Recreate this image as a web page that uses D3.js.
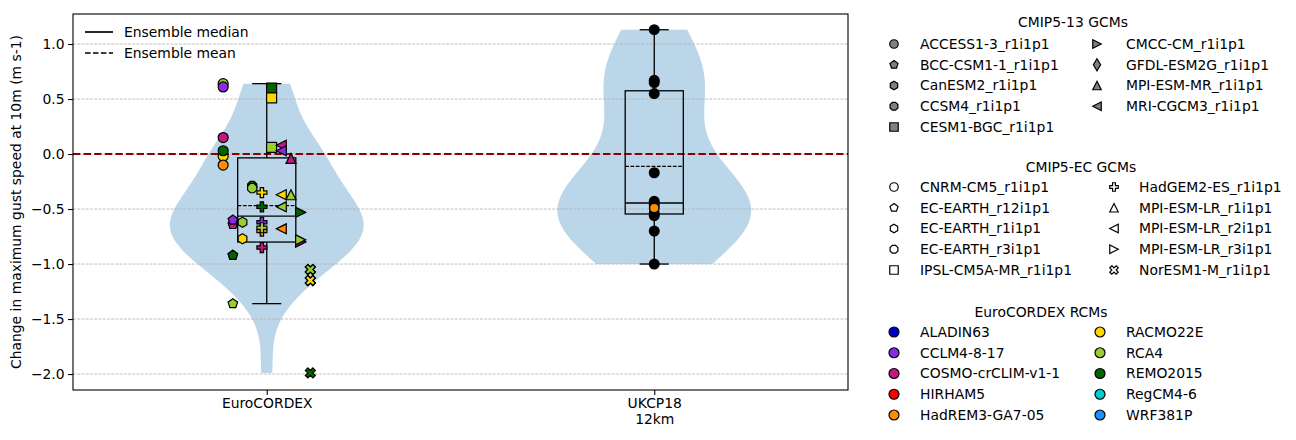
<!DOCTYPE html>
<html>
<head>
<meta charset="utf-8">
<script src="https://cdn.jsdelivr.net/npm/d3@7"></script>
<style>
  body { margin: 0; background: #fff; }
  svg text { font-family: "DejaVu Sans", sans-serif; font-size: 13.9px; fill: #000; }
</style>
</head>
<body>
<div id="chart"></div>
<script>
// ---------------- data ----------------
const groups = ['EuroCORDEX', 'UKCP18\n12km'];
const yTicks = [1.0, 0.5, 0.0, -0.5, -1.0, -1.5, -2.0];

const rcmNames = ['ALADIN63', 'CCLM4-8-17', 'COSMO-crCLIM-v1-1', 'HIRHAM5', 'HadREM3-GA7-05',
    'RACMO22E', 'RCA4', 'REMO2015', 'RegCM4-6', 'WRF381P'];
const rcmColors = ['#0000cd', '#8a2be2', '#c71585', '#ff0000', '#ff8c00',
    '#ffd700', '#9acd32', '#006400', '#00ced1', '#1e90ff'];

const cmip13Gcms = ['ACCESS1-3_r1i1p1', 'BCC-CSM1-1_r1i1p1', 'CanESM2_r1i1p1', 'CCSM4_r1i1p1',
    'CESM1-BGC_r1i1p1', 'CMCC-CM_r1i1p1', 'GFDL-ESM2G_r1i1p1', 'MPI-ESM-MR_r1i1p1', 'MRI-CGCM3_r1i1p1'];
const cmip13Markers = ['o', 'p', 'h', '8', 's', '>', 'd', '^', '<'];

const ecGcms = ['CNRM-CM5_r1i1p1', 'EC-EARTH_r12i1p1', 'EC-EARTH_r1i1p1', 'EC-EARTH_r3i1p1',
    'IPSL-CM5A-MR_r1i1p1', 'HadGEM2-ES_r1i1p1', 'MPI-ESM-LR_r1i1p1', 'MPI-ESM-LR_r2i1p1',
    'MPI-ESM-LR_r3i1p1', 'NorESM1-M_r1i1p1'];
const ecMarkers = ['o', 'p', 'h', '8', 's', 'P', '^', '<', '>', 'X'];
// order of the GCM columns beside the EuroCORDEX box
const ecColumnOrder = ['CNRM-CM5_r1i1p1', 'EC-EARTH_r12i1p1', 'EC-EARTH_r1i1p1', 'EC-EARTH_r3i1p1',
    'HadGEM2-ES_r1i1p1', 'IPSL-CM5A-MR_r1i1p1', 'MPI-ESM-LR_r2i1p1', 'MPI-ESM-LR_r1i1p1',
    'MPI-ESM-LR_r3i1p1', 'NorESM1-M_r1i1p1'];

// EuroCORDEX members (GCM, RCM, change)
const euroGcm = [
    'CNRM-CM5_r1i1p1', 'CNRM-CM5_r1i1p1', 'CNRM-CM5_r1i1p1', 'CNRM-CM5_r1i1p1', 'CNRM-CM5_r1i1p1', 'CNRM-CM5_r1i1p1',
    'EC-EARTH_r12i1p1', 'EC-EARTH_r12i1p1', 'EC-EARTH_r12i1p1', 'EC-EARTH_r12i1p1', 'EC-EARTH_r12i1p1',
    'EC-EARTH_r1i1p1', 'EC-EARTH_r1i1p1',
    'EC-EARTH_r3i1p1', 'EC-EARTH_r3i1p1',
    'HadGEM2-ES_r1i1p1', 'HadGEM2-ES_r1i1p1', 'HadGEM2-ES_r1i1p1', 'HadGEM2-ES_r1i1p1', 'HadGEM2-ES_r1i1p1', 'HadGEM2-ES_r1i1p1',
    'IPSL-CM5A-MR_r1i1p1', 'IPSL-CM5A-MR_r1i1p1', 'IPSL-CM5A-MR_r1i1p1',
    'MPI-ESM-LR_r2i1p1', 'MPI-ESM-LR_r2i1p1', 'MPI-ESM-LR_r2i1p1', 'MPI-ESM-LR_r2i1p1', 'MPI-ESM-LR_r2i1p1',
    'MPI-ESM-LR_r1i1p1', 'MPI-ESM-LR_r1i1p1',
    'MPI-ESM-LR_r3i1p1', 'MPI-ESM-LR_r3i1p1', 'MPI-ESM-LR_r3i1p1', 'MPI-ESM-LR_r3i1p1',
    'NorESM1-M_r1i1p1', 'NorESM1-M_r1i1p1', 'NorESM1-M_r1i1p1', 'NorESM1-M_r1i1p1', 'NorESM1-M_r1i1p1'
];
const euroRcm = [
    'RCA4', 'CCLM4-8-17', 'COSMO-crCLIM-v1-1', 'RACMO22E', 'REMO2015', 'HadREM3-GA7-05',
    'COSMO-crCLIM-v1-1', 'CCLM4-8-17', 'HIRHAM5', 'REMO2015', 'RCA4',
    'RCA4', 'RACMO22E',
    'REMO2015', 'RCA4',
    'RACMO22E', 'REMO2015', 'CCLM4-8-17', 'HadREM3-GA7-05', 'RCA4', 'COSMO-crCLIM-v1-1',
    'REMO2015', 'RACMO22E', 'RCA4',
    'COSMO-crCLIM-v1-1', 'CCLM4-8-17', 'RACMO22E', 'RCA4', 'HadREM3-GA7-05',
    'COSMO-crCLIM-v1-1', 'RCA4',
    'REMO2015', 'HIRHAM5', 'COSMO-crCLIM-v1-1', 'RCA4',
    'CCLM4-8-17', 'RCA4', 'ALADIN63', 'RACMO22E', 'REMO2015'
];
const euroValues = [
    0.64, 0.61, 0.15, -0.02, 0.03, -0.10,
    -0.64, -0.60, -0.92, -0.92, -1.36,
    -0.62, -0.77,
    -0.29, -0.31,
    -0.35, -0.48, -0.62, -0.70, -0.67, -0.85,
    0.60, 0.51, 0.06,
    0.08, 0.03, -0.37, -0.48, -0.68,
    -0.04, -0.37,
    -0.53, -0.80, -0.80, -0.78,
    -1.05, -1.05, -1.15, -1.15, -1.99
];

// UKCP18 12km members; one member drawn in orange
const ukcpValues = [1.13, 0.67, 0.65, 0.55, -0.17, -0.43, -0.46, -0.49, -0.54, -0.56, -0.70, -1.00];
const ukcpHighlight = 7;

// ---------------- marker shapes (matplotlib-like) ----------------
function polyPath(pts) {
    return 'M' + pts.map(p => p[0].toFixed(2) + ',' + p[1].toFixed(2)).join('L') + 'Z';
}
function regularPoly(n, r, rot) {
    return d3.range(n).map(i => {
        const a = -Math.PI / 2 + rot + i * 2 * Math.PI / n;
        return [r * Math.cos(a), r * Math.sin(a)];
    });
}
function markerPath(m, size) {
    const r = size / 2;
    switch (m) {
        case 'o': {
            const p = d3.path();
            p.arc(0, 0, r, 0, 2 * Math.PI);
            p.closePath();
            return p.toString();
        }
        case 's': return polyPath([[-r, -r], [r, -r], [r, r], [-r, r]]);
        case 'p': return polyPath(regularPoly(5, r, 0));
        case 'h': return polyPath(regularPoly(6, r, 0));
        case '8': return polyPath(regularPoly(8, r, Math.PI / 8));
        case '^': return polyPath([[0, -r], [r, r], [-r, r]]);
        case '<': return polyPath([[-r, 0], [r, -r], [r, r]]);
        case '>': return polyPath([[r, 0], [-r, r], [-r, -r]]);
        case 'd': return polyPath([[0, -0.707 * size], [0.424 * size, 0], [0, 0.707 * size], [-0.424 * size, 0]]);
        case 'P': return polyPath([[-1, -3], [1, -3], [1, -1], [3, -1], [3, 1], [1, 1], [1, 3], [-1, 3],
            [-1, 1], [-3, 1], [-3, -1], [-1, -1]].map(p => [p[0] * size / 6, p[1] * size / 6]));
        case 'X': return polyPath([[-1, -2], [0, -1], [1, -2], [2, -1], [1, 0], [2, 1], [1, 2], [0, 1],
            [-1, 2], [-2, 1], [-1, 0], [-2, -1]].map(p => [p[0] * size / 4, p[1] * size / 4]));
    }
}

// ---------------- chart ----------------
class ViolinChart {
    constructor(_config) {
        this.config = {
            parentElement: _config.parentElement,
            containerWidth: 1296,
            containerHeight: 440,
            margin: { top: 14, right: 448, bottom: 50, left: 73 }
        };
        this.initVis();
    }

    initVis() {
        let vis = this;
        const m = vis.config.margin;
        vis.width = vis.config.containerWidth - m.left - m.right;
        vis.height = vis.config.containerHeight - m.top - m.bottom;

        vis.svg = d3.select(vis.config.parentElement).append('svg')
            .attr('width', vis.config.containerWidth)
            .attr('height', vis.config.containerHeight);

        vis.chart = vis.svg.append('g')
            .attr('transform', `translate(${m.left}, ${m.top})`);

        vis.xScale = d3.scaleLinear().domain([0.5, 2.5]).range([0, vis.width]);
        vis.yScale = d3.scaleLinear().domain([-2.145, 1.273]).range([vis.height, 0]);
        vis.rcmColor = d3.scaleOrdinal().domain(rcmNames).range(rcmColors);
        vis.ecShape = d3.scaleOrdinal().domain(ecGcms).range(ecMarkers);
        vis.colOffset = d3.scalePoint().domain(ecColumnOrder).range([-0.1125, 0.1125]);

        vis.updateVis();
    }

    boxStats(values) {
        const q1 = d3.quantile(values, 0.25), q3 = d3.quantile(values, 0.75);
        const iqr = q3 - q1;
        return {
            q1, q3,
            median: d3.median(values),
            mean: d3.mean(values),
            lo: d3.min(values.filter(v => v >= q1 - 1.5 * iqr)),
            hi: d3.max(values.filter(v => v <= q3 + 1.5 * iqr))
        };
    }

    kde(values) {
        // gaussian kde, Scott's rule, like matplotlib violinplot
        const n = values.length;
        const bw = d3.deviation(values) * Math.pow(n, -0.2);
        const [lo, hi] = d3.extent(values);
        const pts = d3.range(100).map(i => {
            const y = lo + (hi - lo) * i / 99;
            return { y, d: d3.sum(values, v => Math.exp(-0.5 * ((y - v) / bw) ** 2)) };
        });
        const maxD = d3.max(pts, p => p.d);
        pts.forEach(p => p.w = 0.25 * p.d / maxD);
        return pts;
    }

    updateVis() {
        let vis = this;
        vis.sets = [
            { pos: 1, values: euroValues },
            { pos: 2, values: ukcpValues }
        ];
        vis.sets.forEach(s => {
            s.stats = vis.boxStats(s.values);
            s.kde = vis.kde(s.values);
        });
        vis.euroPoints = euroValues.map((v, i) => ({ value: v, gcm: euroGcm[i], rcm: euroRcm[i] }));
        vis.renderVis();
    }

    renderVis() {
        let vis = this;
        const x = vis.xScale, y = vis.yScale;

        // violins
        const area = d3.area()
            .x0(d => x(d.pos - d.w)).x1(d => x(d.pos + d.w)).y(d => y(d.y));
        vis.chart.selectAll('.violin')
            .data(vis.sets)
            .join('path')
            .attr('class', 'violin')
            .attr('d', s => area(s.kde.map(k => ({ pos: s.pos, w: k.w, y: k.y }))))
            .attr('fill', '#1f77b4')
            .attr('fill-opacity', 0.3);

        // grid
        vis.chart.selectAll('.grid')
            .data(yTicks)
            .join('line')
            .attr('class', 'grid')
            .attr('x1', 0).attr('x2', vis.width)
            .attr('y1', d => y(d)).attr('y2', d => y(d))
            .attr('stroke', '#b0b0b0')
            .attr('stroke-width', 0.8)
            .attr('stroke-dasharray', '2.96,1.28');

        // zero line
        vis.chart.append('line')
            .attr('x1', 0).attr('x2', vis.width)
            .attr('y1', y(0)).attr('y2', y(0))
            .attr('stroke', '#8b0000')
            .attr('stroke-width', 2)
            .attr('stroke-dasharray', '7.4,3.2');

        // box plots
        const bw = 0.075;
        const boxes = vis.chart.selectAll('.box')
            .data(vis.sets)
            .join('g')
            .attr('class', 'box')
            .attr('stroke', '#000')
            .attr('stroke-width', 1.3)
            .attr('fill', 'none');
        boxes.append('rect')
            .attr('x', s => x(s.pos - bw))
            .attr('y', s => y(s.stats.q3))
            .attr('width', s => x(s.pos + bw) - x(s.pos - bw))
            .attr('height', s => y(s.stats.q1) - y(s.stats.q3));
        boxes.append('line')
            .attr('x1', s => x(s.pos - bw)).attr('x2', s => x(s.pos + bw))
            .attr('y1', s => y(s.stats.median)).attr('y2', s => y(s.stats.median));
        boxes.append('line')
            .attr('x1', s => x(s.pos - bw)).attr('x2', s => x(s.pos + bw))
            .attr('y1', s => y(s.stats.mean)).attr('y2', s => y(s.stats.mean))
            .attr('stroke-dasharray', '3.7,1.6');
        [['q3', 'hi'], ['q1', 'lo']].forEach(([a, b]) => {
            boxes.append('line')
                .attr('x1', s => x(s.pos)).attr('x2', s => x(s.pos))
                .attr('y1', s => y(s.stats[a])).attr('y2', s => y(s.stats[b]));
            boxes.append('line')
                .attr('x1', s => x(s.pos - bw / 2)).attr('x2', s => x(s.pos + bw / 2))
                .attr('y1', s => y(s.stats[b])).attr('y2', s => y(s.stats[b]));
        });

        // EuroCORDEX members
        vis.chart.selectAll('.member')
            .data(vis.euroPoints)
            .join('path')
            .attr('class', 'member')
            .attr('transform', d => `translate(${x(1 + vis.colOffset(d.gcm))}, ${y(d.value)})`)
            .attr('d', d => markerPath(vis.ecShape(d.gcm), 10))
            .attr('fill', d => vis.rcmColor(d.rcm))
            .attr('stroke', '#000')
            .attr('stroke-width', 1.2);

        // UKCP18 members
        vis.chart.selectAll('.ukcp')
            .data(ukcpValues.map((v, i) => ({ v, i })))
            .join('circle')
            .attr('class', 'ukcp')
            .attr('cx', x(2))
            .attr('cy', d => y(d.v))
            .attr('r', 5.5)
            .attr('fill', '#000');
        vis.chart.append('circle')
            .attr('cx', x(2))
            .attr('cy', y(ukcpValues[ukcpHighlight]))
            .attr('r', 4)
            .attr('fill', '#ff8c00');

        // axes
        const yAxis = d3.axisLeft(y).tickValues(yTicks).tickFormat(d3.format('.1f'))
            .tickSize(4.9).tickPadding(3.5);
        const yg = vis.chart.append('g').call(yAxis);
        yg.select('.domain').remove();
        yg.selectAll('line').attr('stroke-width', 1.1);
        yg.selectAll('text').attr('font-size', null).attr('font-family', null);

        const xAxis = d3.axisBottom(x).tickValues([1, 2]).tickSize(4.9).tickPadding(3.5)
            .tickFormat((d, i) => groups[i]);
        const xg = vis.chart.append('g').attr('transform', `translate(0, ${vis.height})`).call(xAxis);
        xg.select('.domain').remove();
        xg.selectAll('line').attr('stroke-width', 1.1);
        xg.selectAll('text').attr('font-size', null).attr('font-family', null)
            .each(function (d, i) {
                const t = d3.select(this);
                const lines = groups[i].split('\n');
                t.text(null);
                lines.forEach((l, k) => t.append('tspan')
                    .attr('x', 0).attr('dy', k === 0 ? '0.71em' : '1.16em').text(l));
            });

        vis.chart.append('rect')
            .attr('width', vis.width).attr('height', vis.height)
            .attr('fill', 'none').attr('stroke', '#000').attr('stroke-width', 1.1);

        vis.svg.append('text')
            .attr('transform', `translate(16, ${vis.config.margin.top + vis.height / 2}) rotate(-90)`)
            .attr('text-anchor', 'middle')
            .attr('dy', '0.35em')
            .text('Change in maximum gust speed at 10m (m s-1)');

        // in-axes legend
        const leg = vis.chart.append('g').attr('transform', 'translate(12, 18)');
        [['Ensemble median', null], ['Ensemble mean', '5.55,2.4']].forEach(([label, dash], i) => {
            leg.append('line')
                .attr('x1', 0).attr('x2', 28).attr('y1', i * 21).attr('y2', i * 21)
                .attr('stroke', '#000').attr('stroke-width', 1.7)
                .attr('stroke-dasharray', dash);
            leg.append('text').attr('x', 39).attr('y', i * 21).attr('dy', '0.35em').text(label);
        });

        // right-hand legends
        vis.drawLegend({
            title: 'CMIP5-13 GCMs', titleX: 1073, titleY: 22, rowY: 44,
            cols: [[894, 920], [1097, 1126]],
            items: cmip13Gcms.map((g, i) => ({ label: g, shape: cmip13Markers[i], fill: '#808080', size: 8.5 }))
        });
        vis.drawLegend({
            title: 'CMIP5-EC GCMs', titleX: 1081, titleY: 167, rowY: 187,
            cols: [[894, 920], [1114, 1139]],
            items: ecGcms.map((g, i) => ({ label: g, shape: ecMarkers[i], fill: '#fff', size: 8.5 }))
        });
        vis.drawLegend({
            title: 'EuroCORDEX RCMs', titleX: 1041, titleY: 312, rowY: 332,
            cols: [[894, 920], [1100, 1126]],
            items: rcmNames.map((r, i) => ({ label: r, shape: 'o', fill: rcmColors[i], size: 10 }))
        });
    }

    drawLegend(cfg) {
        let vis = this;
        const g = vis.svg.append('g');
        g.append('text')
            .attr('x', cfg.titleX).attr('y', cfg.titleY).attr('dy', '0.35em')
            .attr('text-anchor', 'middle')
            .text(cfg.title);
        const rowStep = 20.75;
        const rows = g.selectAll('.item')
            .data(cfg.items)
            .join('g')
            .attr('class', 'item')
            .attr('transform', (d, i) => `translate(0, ${cfg.rowY + (i % 5) * rowStep})`);
        rows.append('path')
            .attr('transform', (d, i) => `translate(${cfg.cols[Math.floor(i / 5)][0]}, 0)`)
            .attr('d', d => markerPath(d.shape, d.size))
            .attr('fill', d => d.fill)
            .attr('stroke', '#000')
            .attr('stroke-width', 1.2);
        rows.append('text')
            .attr('x', (d, i) => cfg.cols[Math.floor(i / 5)][1])
            .attr('dy', '0.35em')
            .text(d => d.label);
    }
}

new ViolinChart({ parentElement: '#chart' });
</script>
</body>
</html>
